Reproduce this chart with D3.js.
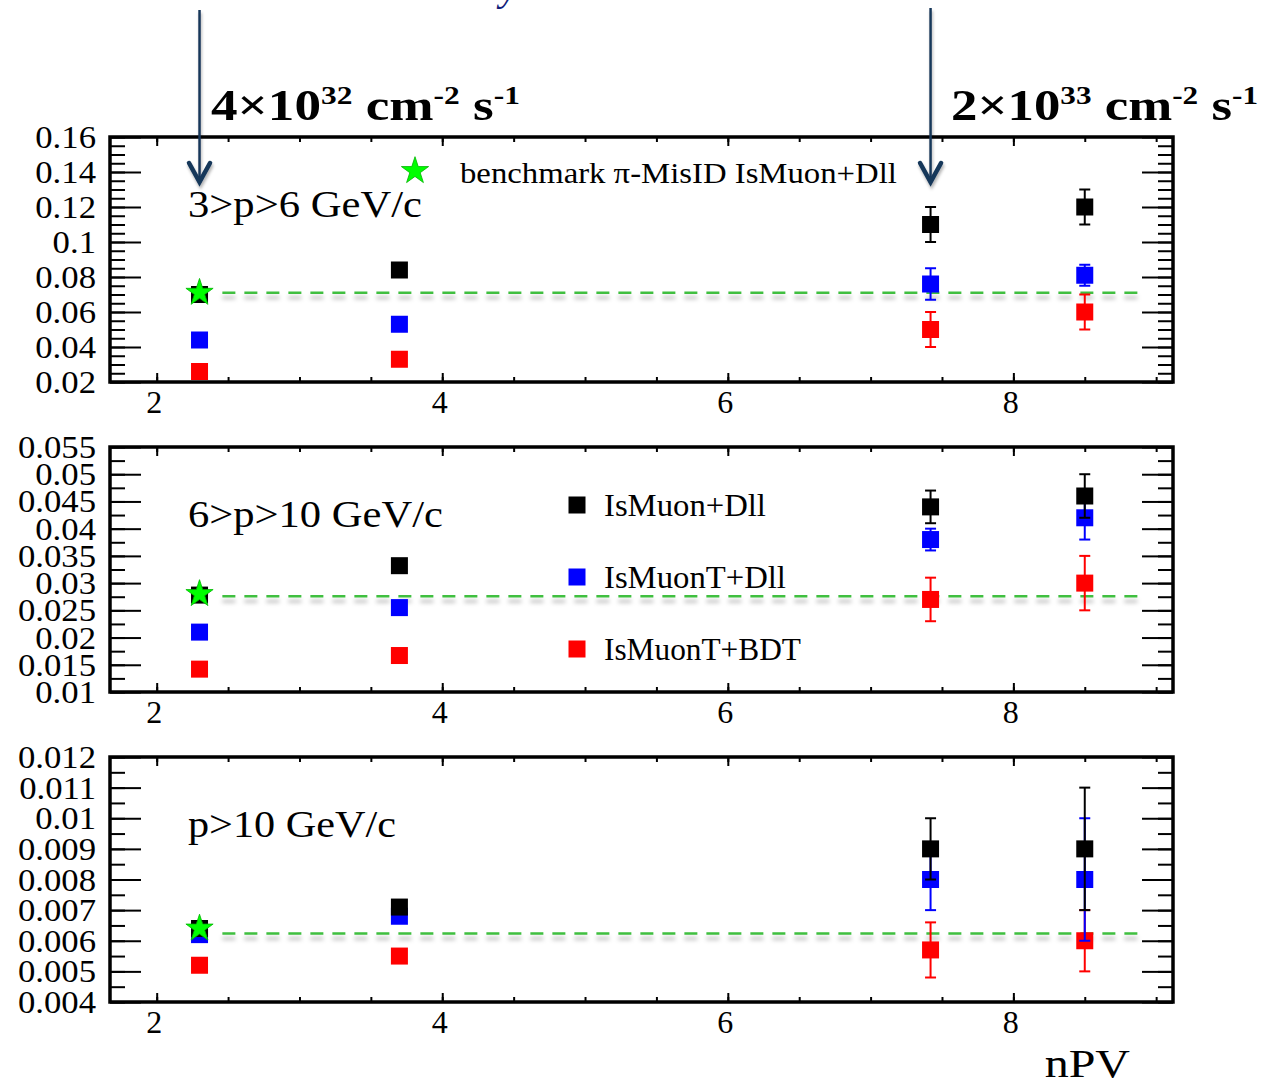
<!DOCTYPE html>
<html>
<head>
<meta charset="utf-8">
<script src="https://cdn.jsdelivr.net/npm/d3@7"></script>
<style>
  html, body { margin: 0; padding: 0; background: #fff; }
  svg { display: block; }
  text { font-family: "Liberation Serif", "Times New Roman", serif; fill: #000; }
</style>
</head>
<body>
<svg id="chart" width="1276" height="1085"></svg>
<script>
// ---- data -------------------------------------------------------------
const nPV = [2.3, 3.7, 7.42, 8.5];
const xDomain = [1.673, 9.118];
const xTickValues = [2, 4, 6, 8];
const xTickLabels = ["2", "4", "6", "8"];
const xMinorStep = 0.5;

const panelTitles = ["3>p>6 GeV/c", "6>p>10 GeV/c", "p>10 GeV/c"];
const seriesNames = ["IsMuon+Dll", "IsMuonT+Dll", "IsMuonT+BDT"];

// 3 < p < 6 GeV/c
const p1IsMuonDll = [0.070, 0.084, 0.110, 0.120];
const p1IsMuonDllErr = [0, 0, 0.010, 0.010];
const p1IsMuonTDll = [0.044, 0.053, 0.076, 0.081];
const p1IsMuonTDllErr = [0, 0, 0.009, 0.006];
const p1IsMuonTBDT = [0.026, 0.033, 0.050, 0.060];
const p1IsMuonTBDTErr = [0, 0, 0.010, 0.010];

// 6 < p < 10 GeV/c
const p2IsMuonDll = [0.0278, 0.0332, 0.044, 0.046];
const p2IsMuonDllErr = [0, 0, 0.003, 0.004];
const p2IsMuonTDll = [0.021, 0.0255, 0.038, 0.042];
const p2IsMuonTDllErr = [0, 0, 0.002, 0.004];
const p2IsMuonTBDT = [0.0142, 0.0167, 0.027, 0.030];
const p2IsMuonTBDTErr = [0, 0, 0.004, 0.005];

// p > 10 GeV/c
const p3IsMuonDll = [0.0064, 0.0071, 0.009, 0.009];
const p3IsMuonDllErr = [0, 0, 0.001, 0.002];
const p3IsMuonTDll = [0.0062, 0.0068, 0.008, 0.008];
const p3IsMuonTDllErr = [0, 0, 0.001, 0.002];
const p3IsMuonTBDT = [0.0052, 0.0055, 0.0057, 0.006];
const p3IsMuonTBDTErr = [0, 0, 0.0009, 0.001];

// benchmark pi mis-ID (IsMuon+Dll at the reference luminosity)
const benchmarkStar = [0.071, 0.0280, 0.0064];
const benchmarkLine = [0.071, 0.0276, 0.00624];
const benchmarkSpan = [2.46, 8.9];

const yDomains = [[0.02, 0.16], [0.01, 0.055], [0.004, 0.012]];
const yTickLabels = [
  ["0.02", "0.04", "0.06", "0.08", "0.1", "0.12", "0.14", "0.16"],
  ["0.01", "0.015", "0.02", "0.025", "0.03", "0.035", "0.04", "0.045", "0.05", "0.055"],
  ["0.004", "0.005", "0.006", "0.007", "0.008", "0.009", "0.01", "0.011", "0.012"]
];
const yMinorSteps = [0.005, 0.0025, 0.0005];

const lumiMantissa = ["4", "2"];
const lumiExponent = ["32", "33"];
const lumiPointIndex = [0, 2];

// ---- assembled tables -------------------------------------------------
const panelSeries = [
  [[p1IsMuonDll, p1IsMuonDllErr], [p1IsMuonTDll, p1IsMuonTDllErr], [p1IsMuonTBDT, p1IsMuonTBDTErr]],
  [[p2IsMuonDll, p2IsMuonDllErr], [p2IsMuonTDll, p2IsMuonTDllErr], [p2IsMuonTBDT, p2IsMuonTBDTErr]],
  [[p3IsMuonDll, p3IsMuonDllErr], [p3IsMuonTDll, p3IsMuonTDllErr], [p3IsMuonTBDT, p3IsMuonTBDTErr]]
];

// ---- styling / layout -------------------------------------------------
const W = 1276, H = 1085;
const colors = ["#000000", "#0000ff", "#ff0000"];
const arrowColor = "#18375a";
const benchColor = "#3fbf3f";
const starFill = "#00ff00";
const frameLeft = 110, frameRight = 1173;
const panelBoxes = [
  { top: 137, bottom: 382 },
  { top: 447, bottom: 692 },
  { top: 757, bottom: 1002 }
];
const titleWidths = [234, 255, 208];
const markerSize = 17;

const svg = d3.select("#chart");

// soft shadows under the dashed benchmark line and the arrows
// (user-space regions, since a horizontal line has a zero-height bounding box)
const defs = svg.append("defs");
const shadow = defs.append("filter").attr("id", "lineShadow")
  .attr("filterUnits", "userSpaceOnUse")
  .attr("x", 0).attr("y", 0).attr("width", W).attr("height", H);
shadow.append("feDropShadow").attr("dx", 0).attr("dy", 5).attr("stdDeviation", 2)
  .attr("flood-color", "#000").attr("flood-opacity", 0.3);
const arrowShadow = defs.append("filter").attr("id", "arrowShadow")
  .attr("filterUnits", "userSpaceOnUse")
  .attr("x", 0).attr("y", 0).attr("width", W).attr("height", H);
arrowShadow.append("feDropShadow").attr("dx", 1).attr("dy", 3).attr("stdDeviation", 1.5)
  .attr("flood-color", "#000").attr("flood-opacity", 0.3);

// text drawn with a horizontal stretch so that it spans a given width
function fitText(sel, x, y, width) {
  const w = sel.node().getComputedTextLength();
  sel.attr("x", 0).attr("y", 0)
     .attr("transform", `translate(${x},${y}) scale(${width / w},1)`);
  return sel;
}
function stretchText(sel, x, y, sx) {
  sel.attr("x", 0).attr("y", 0)
     .attr("transform", `translate(${x},${y}) scale(${sx},1)`);
  return sel;
}

const x = d3.scaleLinear().domain(xDomain).range([frameLeft, frameRight]);
const star = d3.symbol().type(d3.symbolStar).size(230);

panelBoxes.forEach((box, pi) => {
  const g = svg.append("g");
  const y = d3.scaleLinear().domain(yDomains[pi]).range([box.bottom, box.top]);

  const yMajors = yTickLabels[pi].map(Number);
  const [y0, y1] = yDomains[pi];
  const nMinor = Math.round((y1 - y0) / yMinorSteps[pi]);
  const yMinors = d3.range(0, nMinor + 1).map(k => y0 + k * yMinorSteps[pi]);
  const xMinors = d3.range(Math.ceil(xDomain[0] / xMinorStep), Math.floor(xDomain[1] / xMinorStep) + 1)
    .map(k => k * xMinorStep);

  // y axis, left: long major ticks pointing inward, labelled
  g.append("g").attr("transform", `translate(${frameLeft},0)`)
    .call(d3.axisLeft(y).tickValues(yMinors).tickSize(-15).tickFormat(""))
    .call(a => a.select(".domain").remove());
  const yLeftMaj = g.append("g").attr("transform", `translate(${frameLeft},0)`)
    .call(d3.axisLeft(y).tickValues(yMajors).tickSize(-31).tickPadding(14)
      .tickFormat((d, i) => yTickLabels[pi][i]))
    .call(a => a.select(".domain").remove());
  yLeftMaj.selectAll("text")
    .attr("font-size", 31).attr("dy", null).attr("font-family", null)
    .each(function () { stretchText(d3.select(this), -14, 10.5, 1.12); });

  // y axis, right
  g.append("g").attr("transform", `translate(${frameRight},0)`)
    .call(d3.axisRight(y).tickValues(yMinors).tickSize(-15).tickFormat(""))
    .call(a => a.select(".domain").remove());
  g.append("g").attr("transform", `translate(${frameRight},0)`)
    .call(d3.axisRight(y).tickValues(yMajors).tickSize(-31).tickFormat(""))
    .call(a => a.select(".domain").remove());

  // x axis, bottom + top
  g.append("g").attr("transform", `translate(0,${box.bottom})`)
    .call(d3.axisBottom(x).tickValues(xMinors).tickSize(-5).tickFormat(""))
    .call(a => a.select(".domain").remove());
  const xb = g.append("g").attr("transform", `translate(0,${box.bottom})`)
    .call(d3.axisBottom(x).tickValues(xTickValues).tickSize(-9).tickPadding(8)
      .tickFormat((d, i) => xTickLabels[i]))
    .call(a => a.select(".domain").remove());
  xb.selectAll("text").attr("font-size", 32).attr("font-family", null)
    .attr("dy", null).attr("y", 31).attr("x", -3);
  g.append("g").attr("transform", `translate(0,${box.top})`)
    .call(d3.axisTop(x).tickValues(xMinors).tickSize(-5).tickFormat(""))
    .call(a => a.select(".domain").remove());
  g.append("g").attr("transform", `translate(0,${box.top})`)
    .call(d3.axisTop(x).tickValues(xTickValues).tickSize(-9).tickFormat(""))
    .call(a => a.select(".domain").remove());

  g.selectAll(".tick line").attr("stroke", "#000").attr("stroke-width", 2);

  // frame
  g.append("rect")
    .attr("x", frameLeft).attr("y", box.top)
    .attr("width", frameRight - frameLeft).attr("height", box.bottom - box.top)
    .attr("fill", "none").attr("stroke", "#000").attr("stroke-width", 3.5);

  // panel title
  fitText(g.append("text").attr("font-size", 38).text(panelTitles[pi]),
          188, [217, 527, 837][pi], titleWidths[pi]);

  // benchmark dashed line
  g.append("line")
    .attr("x1", x(benchmarkSpan[0])).attr("x2", x(benchmarkSpan[1]))
    .attr("y1", y(benchmarkLine[pi])).attr("y2", y(benchmarkLine[pi]))
    .attr("stroke", benchColor).attr("stroke-width", 2.5)
    .attr("stroke-dasharray", "13,9").attr("filter", "url(#lineShadow)");

  // series: error bars then markers (BDT first, IsMuon+Dll on top)
  [2, 1, 0].forEach(si => {
    const [vals, errs] = panelSeries[pi][si];
    const sg = g.append("g");
    vals.forEach((v, k) => {
      const cx = x(nPV[k]);
      if (errs[k] > 0) {
        const yl = y(v - errs[k]), yh = y(v + errs[k]);
        sg.append("line").attr("x1", cx).attr("x2", cx).attr("y1", yl).attr("y2", yh)
          .attr("stroke", colors[si]).attr("stroke-width", 2);
        [yl, yh].forEach(yy => sg.append("line")
          .attr("x1", cx - 5.5).attr("x2", cx + 5.5).attr("y1", yy).attr("y2", yy)
          .attr("stroke", colors[si]).attr("stroke-width", 2));
      }
      sg.append("rect")
        .attr("x", cx - markerSize / 2).attr("y", y(v) - markerSize / 2)
        .attr("width", markerSize).attr("height", markerSize)
        .attr("fill", colors[si]);
    });
  });

  // benchmark star
  g.append("path").attr("d", star)
    .attr("transform", `translate(${x(nPV[0])},${y(benchmarkStar[pi])})`)
    .attr("fill", starFill).attr("stroke", "#00b400").attr("stroke-width", 0.8);
});

// legend: benchmark star (top panel)
svg.append("path").attr("d", star)
  .attr("transform", "translate(415,171)")
  .attr("fill", starFill).attr("stroke", "#00b400").attr("stroke-width", 0.8);
fitText(svg.append("text").attr("font-size", 29).text("benchmark \u03c0-MisID IsMuon+Dll"),
        460, 183, 437);

// legend: selections (middle panel)
const legendRows = [505, 577, 649];
const legendWidths = [162, 182, 197];
seriesNames.forEach((name, i) => {
  svg.append("rect")
    .attr("x", 577 - markerSize / 2).attr("y", legendRows[i] - markerSize / 2)
    .attr("width", markerSize).attr("height", markerSize).attr("fill", colors[i]);
  fitText(svg.append("text").attr("font-size", 32).text(name),
          604, legendRows[i] + 11, legendWidths[i]);
});

// x-axis title
stretchText(svg.append("text").attr("font-size", 40).attr("text-anchor", "end").text("nPV"),
            1130, 1077, 1.2);

// luminosity arrows and labels
const lumiLabelX = [211, 951];
const lumiLabelW = [309, 307];
const arrowTop = [10, 8];
lumiPointIndex.forEach((pIdx, i) => {
  const ax = x(nPV[pIdx]);
  const tipY = 182;
  const ag = svg.append("g").attr("filter", "url(#arrowShadow)");
  ag.append("line").attr("x1", ax).attr("x2", ax).attr("y1", arrowTop[i]).attr("y2", tipY - 2)
    .attr("stroke", arrowColor).attr("stroke-width", 2.5);
  ag.append("path")
    .attr("d", `M${ax - 10.5},${tipY - 19} L${ax},${tipY} L${ax + 10.5},${tipY - 19}`)
    .attr("fill", "none").attr("stroke", arrowColor).attr("stroke-width", 4.5)
    .attr("stroke-linejoin", "miter").attr("stroke-linecap", "round");

  const t = svg.append("text").attr("font-size", 44).attr("font-weight", "bold");
  t.append("tspan").text(lumiMantissa[i] + "\u00d710");
  t.append("tspan").attr("font-size", 26).attr("dy", -16).text(lumiExponent[i]);
  t.append("tspan").attr("dy", 16).text(" cm");
  t.append("tspan").attr("font-size", 26).attr("dy", -16).text("-2");
  t.append("tspan").attr("dy", 16).text(" s");
  t.append("tspan").attr("font-size", 26).attr("dy", -16).text("-1");
  fitText(t, lumiLabelX[i], 120, lumiLabelW[i]);
});

// tail of the heading lettering above the figure
svg.append("text").attr("x", 500).attr("y", 0).attr("font-size", 40)
  .attr("font-style", "italic").style("fill", "#10207a").text("y");
</script>
</body>
</html>
